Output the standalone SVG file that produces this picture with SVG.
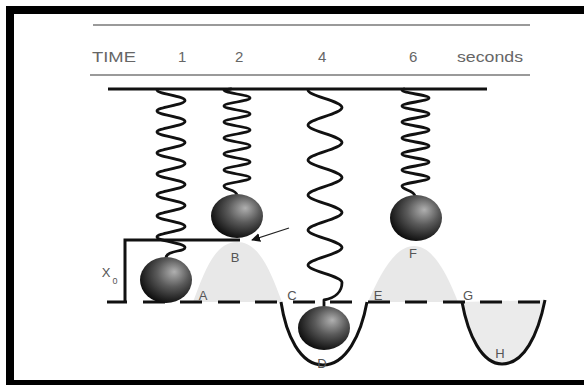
<svg xmlns="http://www.w3.org/2000/svg" width="584" height="385" viewBox="0 0 584 385">
  <style>
    .rule { stroke: #9a9a9a; stroke-width: 2; fill: none; }
    .hdr { font-family: "Liberation Sans", Arial, sans-serif; font-size: 15px; fill: #666; }
    .lbl { font-family: "Liberation Sans", Arial, sans-serif; font-size: 13px; fill: #555; text-anchor: middle; }
    .spring { stroke: #111; stroke-width: 2.8; fill: none; stroke-linecap: round; stroke-linejoin: round; }
    .ground { stroke: #111; stroke-width: 3; fill: none; }
    .hill { fill: #e8e8e8; stroke: none; }
    .mass { fill: url(#ballShade); }
  </style>
  <defs>
    <radialGradient id="ballShade" cx="0.6" cy="0.38" r="0.68" fx="0.66" fy="0.32">
      <stop offset="0" stop-color="#b0b0b0"/>
      <stop offset="0.45" stop-color="#5a5a5a"/>
      <stop offset="1" stop-color="#060606"/>
    </radialGradient>
    <marker id="head" viewBox="0 0 10 10" refX="9" refY="5" markerWidth="9" markerHeight="9" markerUnits="userSpaceOnUse" orient="auto">
      <path d="M0,0 L10,5 L0,10 Z" fill="#111"/>
    </marker>
  </defs>

  <rect x="0" y="0" width="584" height="385" fill="#fff"/>
  <!-- picture frame -->
  <rect x="10" y="10" width="600" height="374" fill="none" stroke="#000" stroke-width="8"/>

  <!-- time header -->
  <g id="header">
    <line class="rule" x1="93" y1="25" x2="530" y2="25"/>
    <text class="hdr" x="92" y="62" textLength="44" lengthAdjust="spacingAndGlyphs">TIME</text>
    <text class="hdr" x="178" y="62">1</text>
    <text class="hdr" x="235" y="62">2</text>
    <text class="hdr" x="318" y="62">4</text>
    <text class="hdr" x="409" y="62">6</text>
    <text class="hdr" x="457" y="62" textLength="66" lengthAdjust="spacingAndGlyphs">seconds</text>
    <line class="rule" x1="90" y1="75" x2="530" y2="75"/>
  </g>

  <!-- energy landscape -->
  <g id="landscape">
    <path class="hill" d="M193,302 C205,270 215,242 237,242 C259,242 270,270 282,302 Z"/>
    <path class="hill" d="M368,302 C380,274 395,246 414,246 C433,246 447,274 458,302 Z"/>
    <path d="M462,302 C468,335 482,364 502,364 C524,364 538,335 545,300 Z" fill="#ebebeb"/>
    <path class="ground" d="M107,302 H127 M143,302 H165 M180,302 H202 M218,302 H240 M255,302 H277 M293,302 H315 M330,302 H352 M368,302 H390 M405,302 H427 M443,302 H465 M480,302 H502 M518,302 H540"/>
    <path class="ground" d="M281,302 C286,335 300,365 323,365 C346,365 361,335 367,302"/>
    <path class="ground" d="M462,302 C468,335 482,364 502,364 C524,364 538,335 545,300"/>
    <!-- X0 displacement bracket -->
    <path class="ground" d="M125,302 V240 H240" stroke-width="2.5"/>
    <text class="lbl" x="106" y="277">X</text>
    <text class="lbl" x="115" y="284" style="font-size:9px">0</text>
  </g>

  <!-- support bar -->
  <line x1="108" y1="89" x2="487" y2="89" stroke="#111" stroke-width="3"/>

  <g id="mass-t1">
    <path class="spring" d="M157,90 C157,94 185,96 185,100.5 C185,105 157,107 157,111 C157,115 185,117 185,121.5 C185,126 157,128 157,132 C157,136 185,138 185,142.5 C185,147 157,149 157,153 C157,157 185,159 185,163.5 C185,168 157,170 157,174 C157,178 185,180 185,184.5 C185,189 157,191 157,195 C157,199 185,201 185,205.5 C185,210 157,212 157,216 C157,220 185,222 185,226.5 C185,231 157,233 157,237 C157,241 185,243 185,247.5 C185,252 166,250 166,258"/>
    <ellipse class="mass" cx="166" cy="280" rx="26" ry="23"/>
  </g>

  <g id="mass-t2">
    <path class="spring" d="M231,89 L224,90 C224,93 250,95 250,98 C250,101 224,103 224,106 C224,109 250,111 250,114 C250,117 224,119 224,122 C224,125 250,127 250,130 C250,133 224,135 224,138 C224,141 250,143 250,146 C250,149 224,151 224,154 C224,157 250,159 250,162 C250,165 224,167 224,170 C224,173 250,175 250,178 C250,181 224,183 224,186 C224,190 236,189 237,195"/>
    <ellipse class="mass" cx="237" cy="216" rx="26" ry="22"/>
  </g>

  <g id="mass-t4">
    <path class="spring" d="M308,90 C308,96 342,101 342,107.5 C342,114 308,119 308,125 C308,131 342,136 342,142.5 C342,149 308,154 308,160 C308,166 342,171 342,177.5 C342,184 308,189 308,195 C308,201 342,206 342,212.5 C342,219 308,224 308,230 C308,236 342,241 342,247.5 C342,254 308,259 308,265 C308,271 342,276 342,282.5 C342,292 335,298 324,300 L324,306"/>
    <ellipse class="mass" cx="324" cy="328" rx="26" ry="22"/>
  </g>

  <g id="mass-t6">
    <path class="spring" d="M404,89 L402,90 C402,93 429,95 429,98 C429,101 402,103 402,106 C402,109 429,111 429,114 C429,117 402,119 402,122 C402,125 429,127 429,130 C429,133 402,135 402,138 C402,141 429,143 429,146 C429,149 402,151 402,154 C402,157 429,159 429,162 C429,165 402,167 402,170 C402,173 429,175 429,178 C429,181 402,183 402,186 C402,190 414,190 415,196"/>
    <ellipse class="mass" cx="416" cy="218" rx="26" ry="23"/>
  </g>

  <!-- state labels -->
  <g id="labels">
    <text class="lbl" x="203" y="300">A</text>
    <text class="lbl" x="235" y="262">B</text>
    <text class="lbl" x="292" y="300">C</text>
    <text class="lbl" x="322" y="368">D</text>
    <text class="lbl" x="378" y="300">E</text>
    <text class="lbl" x="413" y="258">F</text>
    <text class="lbl" x="468" y="300">G</text>
    <text class="lbl" x="500" y="358">H</text>
  </g>

  <g id="connectors">
    <line x1="289" y1="228" x2="252" y2="240" stroke="#222" stroke-width="1.2" marker-end="url(#head)"/>
  </g>
</svg>
